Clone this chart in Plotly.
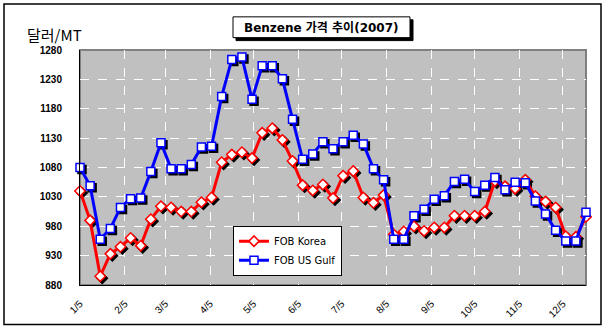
import plotly.graph_objects as go
from datetime import datetime, timedelta

# ---------------- data ----------------
dates = [
    "2007-01-05", "2007-01-12", "2007-01-19", "2007-01-26",
    "2007-02-02", "2007-02-09", "2007-02-16", "2007-02-23",
    "2007-03-02", "2007-03-09", "2007-03-16", "2007-03-23", "2007-03-30",
    "2007-04-06", "2007-04-13", "2007-04-20", "2007-04-27",
    "2007-05-04", "2007-05-11", "2007-05-18", "2007-05-25",
    "2007-06-01", "2007-06-08", "2007-06-15", "2007-06-22", "2007-06-29",
    "2007-07-06", "2007-07-13", "2007-07-20", "2007-07-27",
    "2007-08-03", "2007-08-10", "2007-08-17", "2007-08-24", "2007-08-31",
    "2007-09-07", "2007-09-14", "2007-09-21", "2007-09-28",
    "2007-10-05", "2007-10-12", "2007-10-19", "2007-10-26",
    "2007-11-02", "2007-11-09", "2007-11-16", "2007-11-23", "2007-11-30",
    "2007-12-07", "2007-12-14", "2007-12-21",
]
fob_korea = [
    1040, 990, 895, 933, 945, 960, 947, 992, 1014, 1012,
    1005, 1005, 1021, 1029, 1089, 1102, 1106, 1096, 1139, 1147,
    1127, 1091, 1050, 1041, 1051, 1028, 1066, 1074, 1029, 1020,
    1033, 966, 971, 980, 972, 978, 978, 998, 998, 998,
    1005, 1057, 1048, 1044, 1059, 1031, 1022, 1012, 963, 962,
    996,
]
fob_us_gulf = [
    1080, 1049, 958, 976, 1012, 1027, 1028, 1073, 1122, 1078,
    1078, 1085, 1115, 1116, 1201, 1264, 1268, 1196, 1253, 1253,
    1231, 1162, 1094, 1103, 1124, 1112, 1124, 1135, 1120, 1078,
    1059, 958, 958, 998, 1009, 1026, 1032, 1056, 1060, 1039,
    1050, 1063, 1042, 1055, 1054, 1023, 1001, 973, 955, 955,
    1004,
]
tick_vals = ["2007-%02d-05" % m for m in range(1, 13)]
tick_text = ["%d/5" % m for m in range(1, 13)]
y_ticks = [880, 930, 980, 1030, 1080, 1130, 1180, 1230, 1280]
title_text = "Benzene 가격 추이(2007)"
y_title = "달러/MT"
series_names = ["FOB Korea", "FOB US Gulf"]

# ---------------- geometry ----------------
W, H = 608, 332
L, R, T, B = 80, 586, 49.5, 287
x_start, x_end = "2007-01-05", "2007-12-21"
y_min, y_max = 880, 1280

def px_x(px):
    return (px - L) / (R - L)

def px_y(py):
    return (B - py) / (B - T)

# shadow offset (pixels) -> shifted axis ranges
d0 = datetime.fromisoformat(x_start)
d1 = datetime.fromisoformat(x_end)
days = (d1 - d0).total_seconds() / 86400
sh = 2.0
dx_days = sh * days / (R - L)
dy_val = sh * (y_max - y_min) / (B - T)
xs0 = (d0 - timedelta(days=dx_days)).isoformat()
xs1 = (d1 - timedelta(days=dx_days)).isoformat()

fig = go.Figure()

# shadow traces (base axes)
fig.add_trace(go.Scatter(
    x=dates, y=fob_korea, mode="markers", xaxis="x", yaxis="y",
    marker=dict(symbol="diamond", size=8, color="black", line=dict(width=1.5, color="black")),
    showlegend=False, hoverinfo="skip", cliponaxis=False))
fig.add_trace(go.Scatter(
    x=dates, y=fob_us_gulf, mode="markers", xaxis="x", yaxis="y",
    marker=dict(symbol="square", size=8, color="black", line=dict(width=1.5, color="black")),
    showlegend=False, hoverinfo="skip", cliponaxis=False))

# main traces (overlay axes)
fig.add_trace(go.Scatter(
    x=dates, y=fob_korea, name=series_names[0], mode="lines+markers",
    xaxis="x2", yaxis="y2",
    line=dict(color="#FF0000", width=3),
    marker=dict(symbol="diamond", size=8, color="white", line=dict(width=1.5, color="#FF0000")),
    cliponaxis=False))
fig.add_trace(go.Scatter(
    x=dates, y=fob_us_gulf, name=series_names[1], mode="lines+markers",
    xaxis="x2", yaxis="y2",
    line=dict(color="#0000FF", width=3),
    marker=dict(symbol="square", size=8, color="white", line=dict(width=1.5, color="#0000FF")),
    cliponaxis=False))

tick_font = dict(family="Liberation Sans, Arial, sans-serif", size=10, color="black")

fig.update_layout(
    width=W, height=H,
    margin=dict(l=L, r=W - R, t=T, b=H - B, pad=0),
    paper_bgcolor="white",
    plot_bgcolor="#C0C0C0",
    showlegend=True,
    legend=dict(
        x=px_x(233), y=px_y(227), xanchor="left", yanchor="top",
        bgcolor="white", bordercolor="black", borderwidth=1,
        font=dict(family="DejaVu Sans, sans-serif", size=10, color="black"),
        tracegroupgap=0, itemwidth=30,
    ),
    xaxis=dict(
        type="date", range=[xs0, xs1], domain=[0, 1],
        showgrid=False, showticklabels=False, ticks="", showline=False, zeroline=False,
        fixedrange=True,
    ),
    yaxis=dict(
        range=[y_min + dy_val, y_max + dy_val], domain=[0, 1],
        showgrid=False, showticklabels=False, ticks="", showline=False, zeroline=False,
        fixedrange=True,
    ),
    xaxis2=dict(
        type="date", range=[x_start, x_end], overlaying="x", side="bottom",
        tickmode="array", tickvals=tick_vals, ticktext=tick_text,
        tickangle=-45, tickfont=tick_font,
        showgrid=True, gridcolor="white", griddash="dash", gridwidth=1,
        ticks="outside", ticklen=8, tickcolor="rgba(0,0,0,0)",
        showline=True, linecolor="black", linewidth=1,
        zeroline=False, anchor="y2",
    ),
    yaxis2=dict(
        range=[y_min, y_max], overlaying="y", side="left",
        tickmode="array", tickvals=y_ticks, ticktext=[str(v) for v in y_ticks],
        tickfont=dict(family="Liberation Sans, Arial, sans-serif", size=10, color="black", weight="bold"),
        showgrid=True, gridcolor="white", griddash="dash", gridwidth=1,
        ticks="outside", ticklen=15, tickcolor="rgba(0,0,0,0)",
        showline=True, linecolor="black", linewidth=1,
        zeroline=False, anchor="x2",
    ),
)

shapes = [
    # outer chart border
    dict(type="rect", xref="paper", yref="paper",
         x0=px_x(4), x1=px_x(601), y0=px_y(327), y1=px_y(3),
         line=dict(color="black", width=1.5), fillcolor="rgba(0,0,0,0)", layer="below"),
    # plot area gray border
    dict(type="rect", xref="paper", yref="paper",
         x0=0, x1=1, y0=0, y1=1,
         line=dict(color="#808080", width=2), fillcolor="rgba(0,0,0,0)", layer="between"),
    # title box shadow
    dict(type="rect", xref="paper", yref="paper",
         x0=px_x(236), x1=px_x(413), y0=px_y(40), y1=px_y(19),
         line=dict(color="black", width=1), fillcolor="black", layer="above"),
    # title box
    dict(type="rect", xref="paper", yref="paper",
         x0=px_x(233), x1=px_x(410), y0=px_y(37), y1=px_y(16),
         line=dict(color="black", width=1), fillcolor="white", layer="above"),
]
fig.update_layout(shapes=shapes)

annotations = [
    dict(text=title_text, xref="paper", yref="paper", x=px_x(321.5), y=px_y(26.5),
         xanchor="center", yanchor="middle", showarrow=False,
         font=dict(family="DejaVu Sans, Noto Sans CJK KR, sans-serif", size=12,
                   color="black", weight="bold")),
    dict(text=y_title, xref="paper", yref="paper", x=px_x(25), y=px_y(34),
         xanchor="left", yanchor="middle", showarrow=False,
         font=dict(family="Noto Sans CJK KR, sans-serif", size=15, color="black")),
]
fig.update_layout(annotations=annotations)

fig.write_html("out.html")
